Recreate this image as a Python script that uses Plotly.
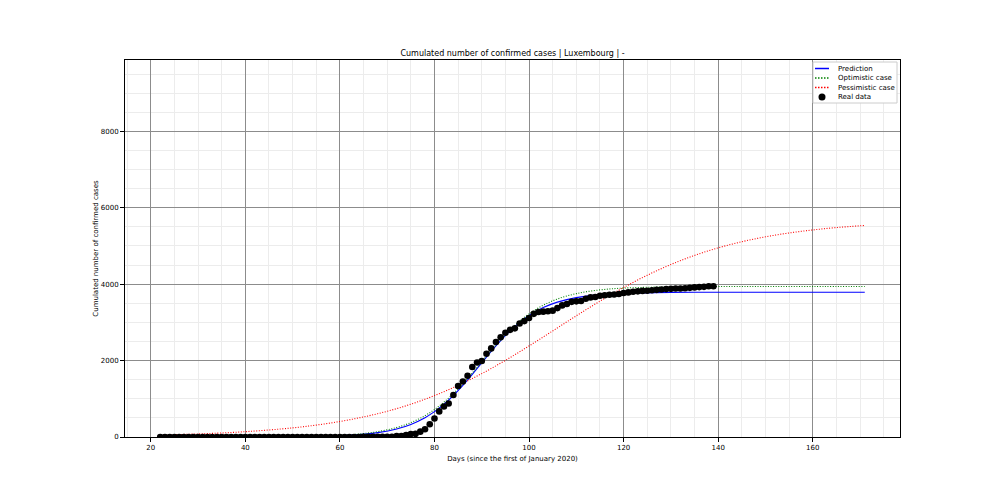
import plotly.graph_objects as go

# Real data: cumulated confirmed cases, day 22 .. 139 (days since 1 Jan 2020)
real_days = list(range(22, 140))
real_cases = [0] * 38 + [
    1, 1, 1, 1, 1, 2, 3, 4, 5, 5, 7, 7, 26, 26, 51, 77, 81, 140, 203, 335,
    484, 670, 798, 875, 1099, 1333, 1453, 1605, 1831, 1950, 1988, 2178, 2319, 2487, 2612, 2729,
    2804, 2843, 2970, 3034, 3115, 3223, 3270, 3281, 3292, 3307, 3373, 3444, 3480, 3537, 3550,
    3558, 3618, 3654, 3665, 3695, 3711, 3723, 3729, 3741, 3769, 3784, 3802, 3812, 3824, 3828,
    3840, 3851, 3859, 3871, 3877, 3886, 3888, 3894, 3904, 3915, 3923, 3930, 3945, 3947,
]

# Model curves
model_days = [22, 30, 40, 50, 55, 60, 64, 68, 72, 75, 78, 80, 82, 84, 86, 88, 90, 92, 94, 96,
              98, 100, 103, 106, 110, 115, 120, 130, 140, 150, 160, 171]
prediction = [0, 0.3, 1.3, 6.6, 14.7, 32.5, 61, 114, 211, 330, 506, 663, 856, 1086, 1350, 1639,
              1941, 2240, 2522, 2776, 2996, 3179, 3387, 3530, 3648, 3725, 3760, 3784, 3789,
              3790, 3790, 3790]
optimistic = [0.2, 0.5, 2.2, 9.8, 20.6, 43, 78, 140, 248, 376, 559, 719, 912, 1139, 1396, 1677,
              1970, 2263, 2544, 2801, 3028, 3221, 3449, 3612, 3753, 3850, 3897, 3930, 3938,
              3940, 3940, 3940]
pess_days = [22, 30, 40, 50, 55, 60, 64, 68, 72, 76, 80, 84, 88, 92, 96, 100, 104, 108, 112, 116,
             120, 125, 130, 135, 140, 145, 150, 155, 160, 165, 171]
pessimistic = [52, 80, 139, 239, 312, 406, 499, 610, 743, 900, 1084, 1294, 1531, 1794, 2080, 2383,
               2697, 3015, 3328, 3629, 3913, 4234, 4515, 4753, 4950, 5111, 5239, 5340, 5419,
               5481, 5536]

legend_names = ["Prediction", "Optimistic case", "Pessimistic case", "Real data"]
legend_colors = ["#0000ff", "#008000", "#ff0000", "#000000"]

FONT = "DejaVu Sans"
DOT = "1px,1.6px"

# plot area in pixels
L, R, T, B = 125, 900, 60, 437
W, H = 1000, 500


def px(xp):
    return (xp - L) / (R - L)


def py(yp):
    return (B - yp) / (B - T)


fig = go.Figure()
fig.add_trace(go.Scatter(x=model_days, y=prediction, mode="lines", name=legend_names[0],
                         line=dict(color=legend_colors[0], width=1.1, shape="spline")))
fig.add_trace(go.Scatter(x=model_days, y=optimistic, mode="lines", name=legend_names[1],
                         line=dict(color=legend_colors[1], width=1.1, dash=DOT, shape="spline")))
fig.add_trace(go.Scatter(x=pess_days, y=pessimistic, mode="lines", name=legend_names[2],
                         line=dict(color=legend_colors[2], width=1.1, dash=DOT, shape="spline")))
fig.add_trace(go.Scatter(x=real_days, y=real_cases, mode="markers", name=legend_names[3],
                         marker=dict(color=legend_colors[3], size=6.6)))

# compact matplotlib-like legend
shapes = [dict(type="rect", xref="paper", yref="paper", layer="above",
               x0=px(813), x1=px(897), y0=py(103), y1=py(62),
               line=dict(color="#cccccc", width=1), fillcolor="white")]
annotations = []
rows = [68.5, 78, 87.5, 97]
for i, (name, col) in enumerate(zip(legend_names, legend_colors)):
    yc = rows[i]
    if i < 3:
        shapes.append(dict(type="line", xref="paper", yref="paper", layer="above",
                           x0=px(815), x1=px(829), y0=py(yc), y1=py(yc),
                           line=dict(color=col, width=1.5,
                                     dash="solid" if i == 0 else "1.5px,1.5px")))
    else:
        shapes.append(dict(type="circle", xref="paper", yref="paper", layer="above",
                           x0=px(818.5), x1=px(825.5), y0=py(yc + 3.5), y1=py(yc - 3.5),
                           line=dict(color=col, width=0), fillcolor=col))
    annotations.append(dict(text=name, xref="paper", yref="paper", x=px(836), y=py(yc),
                            xanchor="left", yanchor="middle", showarrow=False,
                            font=dict(family=FONT, size=7, color="black")))

axis_common = dict(
    showline=True, linecolor="black", linewidth=1, mirror=True,
    ticks="outside", ticklen=4, tickcolor="black",
    showgrid=True, gridcolor="#8c8c8c", gridwidth=1,
    zeroline=False,
    tickfont=dict(family=FONT, size=7, color="black"),
)

fig.update_layout(
    width=W, height=H,
    margin=dict(l=L, r=W - R, t=T, b=H - B),
    paper_bgcolor="white", plot_bgcolor="white",
    font=dict(family=FONT, size=7, color="black"),
    title=dict(text="Cumulated number of confirmed cases | Luxembourg | -",
               x=0.5125, xanchor="center", y=0.894, yanchor="middle",
               font=dict(family=FONT, size=8, color="black")),
    showlegend=False,
    shapes=shapes,
    annotations=annotations,
)
fig.update_xaxes(range=[14.55, 178.45], tick0=0, dtick=20,
                 minor=dict(dtick=5, showgrid=True, gridcolor="#ececec", ticks=""),
                 title=dict(text="Days (since the first of January 2020)",
                            font=dict(family=FONT, size=7, color="black"), standoff=4),
                 **axis_common)
fig.update_yaxes(range=[0, 9867], tick0=0, dtick=2000, tickformat="d",
                 minor=dict(dtick=500, showgrid=True, gridcolor="#ececec", ticks=""),
                 title=dict(text="Cumulated number of confirmed cases",
                            font=dict(family=FONT, size=7, color="black"), standoff=1),
                 **axis_common)

fig.write_html("out.html")
